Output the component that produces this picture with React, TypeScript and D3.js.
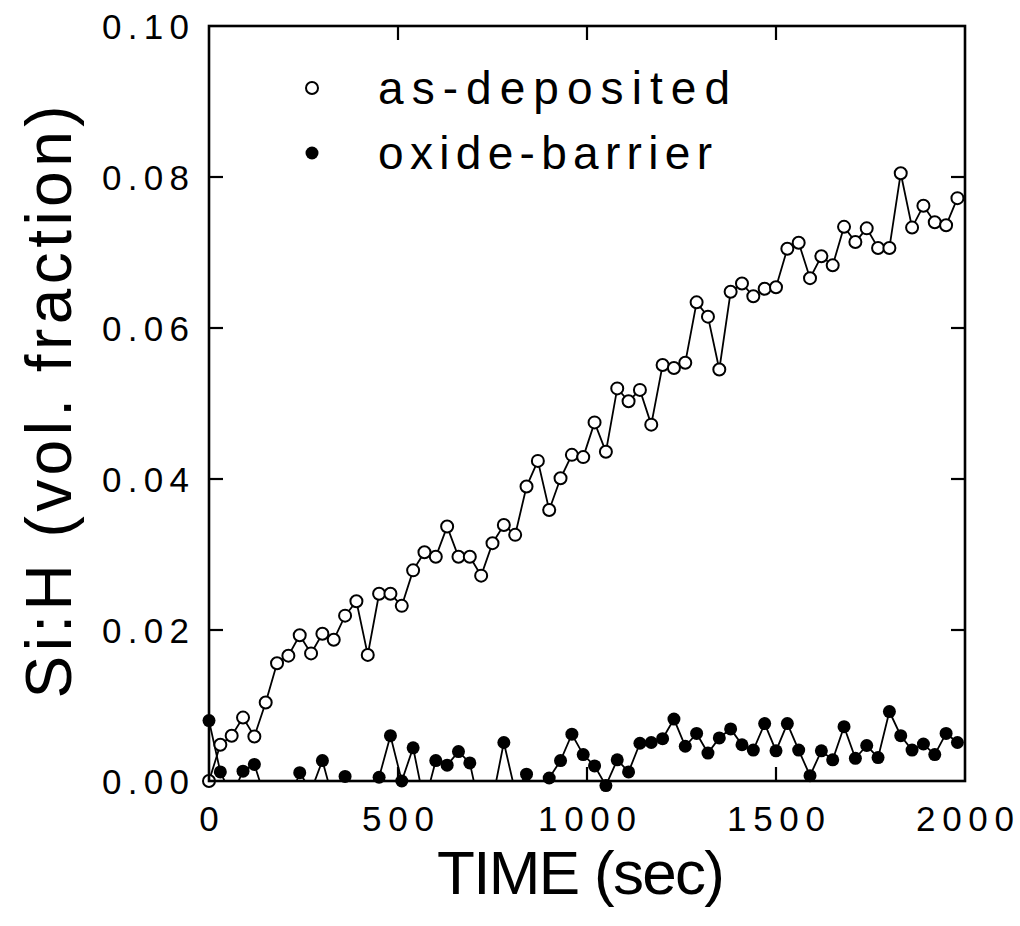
import React from 'react';
import * as d3 from 'd3';

const TIME_SEC = [
  0, 30, 60, 90, 120, 150, 180, 210, 240, 270, 300, 330, 360, 390, 420, 450, 480, 510, 540, 570,
  600, 630, 660, 690, 720, 750, 780, 810, 840, 870, 900, 930, 960, 990, 1020, 1050, 1080, 1110,
  1140, 1170, 1200, 1230, 1260, 1290, 1320, 1350, 1380, 1410, 1440, 1470, 1500, 1530, 1560, 1590,
  1620, 1650, 1680, 1710, 1740, 1770, 1800, 1830, 1860, 1890, 1920, 1950, 1980,
];

const AS_DEPOSITED = [
  0.0, 0.0048, 0.006, 0.0084, 0.0059, 0.0104, 0.0156, 0.0166, 0.0193, 0.0169, 0.0195, 0.0187,
  0.0219, 0.0238, 0.0167, 0.0248, 0.0248, 0.0232, 0.0279, 0.0303, 0.0297, 0.0337, 0.0297, 0.0297,
  0.0272, 0.0315, 0.0339, 0.0326, 0.039, 0.0424, 0.0359, 0.0401, 0.0432, 0.0429, 0.0475, 0.0436,
  0.052, 0.0503, 0.0518, 0.0472, 0.0551, 0.0547, 0.0554, 0.0634, 0.0615, 0.0545, 0.0648, 0.0659,
  0.0642, 0.0652, 0.0654, 0.0705, 0.0713, 0.0666, 0.0695, 0.0683, 0.0734, 0.0714, 0.0732, 0.0706,
  0.0706, 0.0805, 0.0733, 0.0762, 0.074, 0.0736, 0.0772,
];

const OXIDE_BARRIER = [
  0.008, 0.0012, -0.002, 0.0013, 0.0022, -0.0025, -0.003, -0.003, 0.0011, -0.0013, 0.0027, -0.0028,
  0.0006, -0.002, -0.002, 0.0005, 0.006, 0.0, 0.0044, -0.003, 0.0027, 0.0021, 0.0039, 0.0024,
  -0.0045, -0.0025, 0.0051, -0.0014, 0.0009, -0.002, 0.0004, 0.0027, 0.0062, 0.0035, 0.002,
  -0.0006, 0.0028, 0.0012, 0.005, 0.0051, 0.0056, 0.0082, 0.0046, 0.0063, 0.0037, 0.0057, 0.0069,
  0.0048, 0.0041, 0.0076, 0.004, 0.0076, 0.0041, 0.0007, 0.004, 0.0028, 0.0072, 0.003, 0.0047,
  0.0031, 0.0092, 0.006, 0.0041, 0.0049, 0.0035, 0.0063, 0.0051,
];

const X_TICKS = [0, 500, 1000, 1500, 2000];
const X_TICK_LABELS = ['0', '500', '1000', '1500', '2000'];
const Y_TICKS = [0, 0.02, 0.04, 0.06, 0.08, 0.1];
const Y_TICK_LABELS = ['0.00', '0.02', '0.04', '0.06', '0.08', '0.10'];
const SERIES_NAMES = ['as-deposited', 'oxide-barrier'];
const X_TITLE = 'TIME (sec)';
const Y_TITLE = 'Si:H (vol. fraction)';

const W = 1020;
const H = 926;
const L = 209;
const R = 965;
const T = 26;
const B = 781;
const FONT = "'Liberation Sans', Arial, Helvetica, sans-serif";

export default function App() {
  const x = d3.scaleLinear().domain([0, 2000]).range([L, R]);
  const y = d3.scaleLinear().domain([0, 0.1]).range([B, T]);

  const line = d3
    .line<number>()
    .x((_, i) => x(TIME_SEC[i]))
    .y((d) => y(d));

  const tickLen = 14;
  const innerXTicks = X_TICKS.filter((t) => t > 0 && t < 2000);
  const innerYTicks = Y_TICKS.filter((t) => t > 0 && t < 0.1);
  const tickFont = 35;

  return (
    <svg
      width={W}
      height={H}
      viewBox={`0 0 ${W} ${H}`}
      style={{ position: 'absolute', left: 0, top: 0, background: '#fff' }}
    >
      <defs>
        <clipPath id="plotClip">
          <rect x={L} y={T} width={R - L} height={B - T} />
        </clipPath>
      </defs>
      <rect x={0} y={0} width={W} height={H} fill="#fff" />

      {/* oxide-barrier */}
      <path
        d={line(OXIDE_BARRIER) || ''}
        fill="none"
        stroke="#000"
        strokeWidth={1.8}
        clipPath="url(#plotClip)"
      />
      {OXIDE_BARRIER.map((v, i) =>
        v >= -0.001 ? (
          <circle key={`f${i}`} cx={x(TIME_SEC[i])} cy={y(v)} r={6.5} fill="#000" />
        ) : null
      )}

      {/* as-deposited */}
      <path
        d={line(AS_DEPOSITED) || ''}
        fill="none"
        stroke="#000"
        strokeWidth={1.8}
        clipPath="url(#plotClip)"
      />
      {AS_DEPOSITED.map((v, i) => (
        <circle
          key={`o${i}`}
          cx={x(TIME_SEC[i])}
          cy={y(v)}
          r={6}
          fill="#fff"
          stroke="#000"
          strokeWidth={2}
        />
      ))}

      {/* frame */}
      <rect x={L} y={T} width={R - L} height={B - T} fill="none" stroke="#000" strokeWidth={2.6} />
      {innerXTicks.map((t) => (
        <g key={`xt${t}`}>
          <line x1={x(t)} x2={x(t)} y1={B} y2={B - tickLen} stroke="#000" strokeWidth={2.2} />
          <line x1={x(t)} x2={x(t)} y1={T} y2={T + tickLen} stroke="#000" strokeWidth={2.2} />
        </g>
      ))}
      {innerYTicks.map((t) => (
        <g key={`yt${t}`}>
          <line x1={L} x2={L + tickLen} y1={y(t)} y2={y(t)} stroke="#000" strokeWidth={2.2} />
          <line x1={R} x2={R - tickLen} y1={y(t)} y2={y(t)} stroke="#000" strokeWidth={2.2} />
        </g>
      ))}

      {/* tick labels */}
      {X_TICKS.map((t, i) => {
        const lab = X_TICK_LABELS[i];
        const extra = lab.length > 1 ? { textLength: lab.length * 26 - 6, lengthAdjust: 'spacing' } : {};
        return (
          <text
            key={`xl${t}`}
            x={x(t)}
            y={831}
            textAnchor="middle"
            fontFamily={FONT}
            fontSize={tickFont}
            fill="#000"
            {...(extra as any)}
          >
            {lab}
          </text>
        );
      })}
      {Y_TICKS.map((t, i) => (
        <text
          key={`yl${t}`}
          x={189}
          y={y(t) + 0.358 * tickFont}
          textAnchor="end"
          fontFamily={FONT}
          fontSize={tickFont}
          fill="#000"
          textLength={87}
          lengthAdjust="spacing"
        >
          {Y_TICK_LABELS[i]}
        </text>
      ))}

      {/* axis titles */}
      <text
        x={581}
        y={894}
        textAnchor="middle"
        fontFamily={FONT}
        fontSize={62}
        fill="#000"
        textLength={288}
        lengthAdjust="spacing"
      >
        {X_TITLE}
      </text>
      <text
        transform={`translate(71, 402) rotate(-90)`}
        textAnchor="middle"
        fontFamily={FONT}
        fontSize={64}
        fill="#000"
        textLength={593}
        lengthAdjust="spacing"
      >
        {Y_TITLE}
      </text>

      {/* legend */}
      <circle cx={312} cy={88} r={6} fill="#fff" stroke="#000" strokeWidth={2} />
      <text
        x={378}
        y={104}
        fontFamily={FONT}
        fontSize={46}
        fill="#000"
        textLength={352}
        lengthAdjust="spacing"
      >
        {SERIES_NAMES[0]}
      </text>
      <circle cx={312} cy={153} r={6.5} fill="#000" />
      <text
        x={378}
        y={169}
        fontFamily={FONT}
        fontSize={46}
        fill="#000"
        textLength={334}
        lengthAdjust="spacing"
      >
        {SERIES_NAMES[1]}
      </text>
    </svg>
  );
}
